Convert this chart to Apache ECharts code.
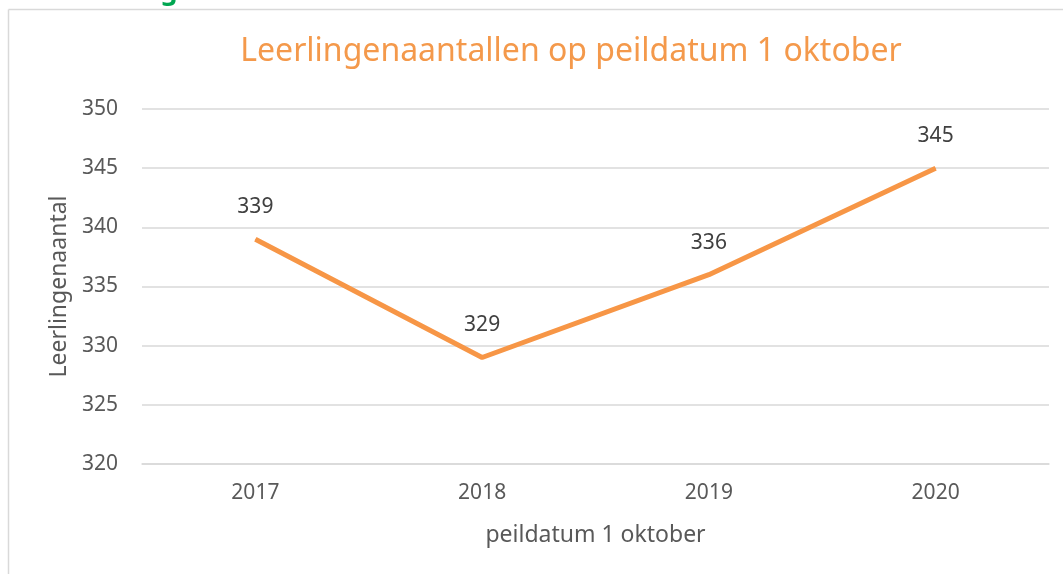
<!DOCTYPE html>
<html>
<head>
    <meta charset="utf-8">
    <title>Leerlingenaantallen</title>
    <script src="https://cdn.jsdelivr.net/npm/echarts@6/dist/echarts.min.js"></script>
    <style>
        html, body { margin: 0; padding: 0; background: #fff; }
        #main { width: 1063px; height: 574px; }
    </style>
</head>
<body>
<div id="main"></div>
<script type="text/javascript">
    // data
    var years = ['2017', '2018', '2019', '2020'];
    var leerlingen = [339, 329, 336, 345];

    var myChart = echarts.init(document.getElementById('main'), null, {renderer: 'canvas'});
    var font = 'Noto Sans';

    myChart.setOption({
        animation: false,
        backgroundColor: '#fff',
        title: {
            text: 'Leerlingenaantallen op peildatum 1 oktober',
            left: 566,
            textAlign: 'center',
            top: 31,
            textStyle: {
                color: '#F4994B',
                fontFamily: font,
                fontWeight: 'normal',
                fontSize: 32
            }
        },
        graphic: [
            // frame of the chart (top and left edges only visible)
            {type: 'line', shape: {x1: 8.5, y1: 9.5, x2: 1063, y2: 9.5}, style: {stroke: '#d9d9d9', lineWidth: 1.5}},
            {type: 'line', shape: {x1: 8.5, y1: 9.5, x2: 8.5, y2: 574}, style: {stroke: '#d9d9d9', lineWidth: 1.5}},
            // heading above the chart, cut off by the page edge
            {type: 'text', left: 22, top: -21, style: {text: '6.3 Leerlingenaantallen', fill: '#00A651', font: 'bold 27px "Noto Sans"'}}
        ],
        grid: {
            left: 142,
            right: 14,
            top: 109,
            bottom: 110
        },
        xAxis: {
            type: 'category',
            data: years,
            boundaryGap: true,
            name: 'peildatum 1 oktober',
            nameLocation: 'middle',
            nameGap: 60,
            nameTextStyle: {color: '#595959', fontFamily: font, fontSize: 23},
            axisLine: {show: true, lineStyle: {color: '#d9d9d9', width: 1.5}},
            axisTick: {show: false},
            axisLabel: {color: '#595959', fontFamily: font, fontSize: 21, margin: 19}
        },
        yAxis: {
            type: 'value',
            min: 320,
            max: 350,
            interval: 5,
            name: 'Leerlingenaantal',
            nameLocation: 'middle',
            nameGap: 70,
            nameTextStyle: {color: '#595959', fontFamily: font, fontSize: 23},
            axisLine: {show: false},
            axisTick: {show: false},
            splitLine: {lineStyle: {color: '#d9d9d9', width: 1.5}},
            axisLabel: {color: '#595959', fontFamily: font, fontSize: 21, margin: 24}
        },
        series: [{
            name: 'Leerlingenaantal',
            type: 'line',
            data: leerlingen,
            symbol: 'circle',
            symbolSize: 1,
            showSymbol: true,
            itemStyle: {color: '#F79646'},
            lineStyle: {color: '#F79646', width: 5},
            label: {
                show: true,
                position: 'top',
                distance: 21,
                color: '#404040',
                fontFamily: font,
                fontSize: 21
            }
        }]
    });
</script>
</body>
</html>
